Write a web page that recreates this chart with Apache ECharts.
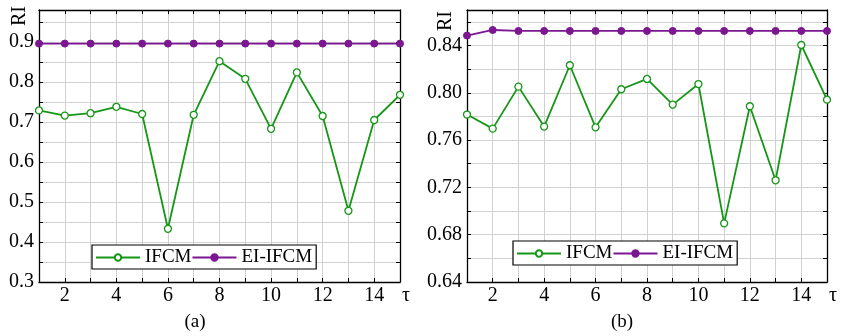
<!DOCTYPE html>
<html>
<head>
<meta charset="utf-8">
<script src="https://cdn.jsdelivr.net/npm/echarts@6/dist/echarts.min.js"></script>
<style>html,body{margin:0;padding:0;background:#fff}#c{width:841px;height:336px}</style>
</head>
<body>
<div id="c"></div>
<script>
const tau = [1,2,3,4,5,6,7,8,9,10,11,12,13,14,15];
const ifcmA = [0.729,0.716,0.722,0.738,0.720,0.433,0.718,0.852,0.808,0.683,0.824,0.715,0.478,0.705,0.768];
const eiA   = [0.896,0.896,0.896,0.896,0.896,0.896,0.896,0.896,0.896,0.896,0.896,0.896,0.896,0.896,0.896];
const ifcmB = [0.7816,0.7697,0.8052,0.7714,0.8233,0.7708,0.8030,0.8117,0.7900,0.8074,0.6896,0.7886,0.7260,0.8404,0.7942];
const eiB   = [0.8484,0.8531,0.8523,0.8523,0.8523,0.8523,0.8523,0.8523,0.8523,0.8523,0.8523,0.8523,0.8523,0.8523,0.8523];
const captions = ['(a)','(b)'];
const yName = 'RI';
const xName = 'τ';

const FONT = 'Liberation Serif';
const GREEN = '#169616';
const PURPLE = '#7b1790';
const pairs = (ys) => tau.map((t,i)=>[t, ys[i]]);

const grids = [
  {left:39, top:10, width:361, height:272},
  {left:467, top:10, width:360, height:272}
];
const yCfg = [
  {min:0.3, max:0.98, interval:0.05, lab:(v)=>Math.round(v*100)%10===0 ? v.toFixed(1) : ''},
  {min:0.64, max:0.87, interval:0.02, lab:(v)=>Math.round(v*100)%4===0 ? v.toFixed(2) : ''}
];

const xAxes = [], yAxes = [], series = [], legends = [], graphics = [];
grids.forEach((g,gi)=>{
  const base = {gridIndex:gi, type:'value', min:1, max:15, interval:1,
    axisLine:{show:true, onZero:false, lineStyle:{color:'#000', width:1.3}},
    axisTick:{show:true, inside:true, length:4, lineStyle:{color:'#000', width:1}},
    splitLine:{show:false}};
  xAxes.push(Object.assign({}, base, {position:'bottom',
    splitLine:{show:true, lineStyle:{color:'#d0d0d0', width:1}},
    axisLabel:{show:true, interval:0, margin:4, color:'#000', fontFamily:FONT, fontSize:20,
      formatter:(v)=> v===15 ? '{t|'+xName+'}' : (v%2===0 ? String(v) : ''),
      rich:{t:{fontFamily:FONT, fontSize:20, color:'#000', padding:[0,0,0,12]}}}}));
  xAxes.push(Object.assign({}, base, {position:'top', axisLabel:{show:false}}));
  const yc = yCfg[gi];
  const ybase = {gridIndex:gi, type:'value', min:yc.min, max:yc.max, interval:yc.interval,
    axisLine:{show:true, onZero:false, lineStyle:{color:'#000', width:1.3}},
    axisTick:{show:true, inside:true, length:4, lineStyle:{color:'#000', width:1}},
    splitLine:{show:false}};
  yAxes.push(Object.assign({}, ybase, {position:'left',
    splitLine:{show:true, lineStyle:{color:'#d0d0d0', width:1}},
    axisLabel:{show:true, margin:5, color:'#000', fontFamily:FONT, fontSize:20, formatter:yc.lab}}));
  yAxes.push(Object.assign({}, ybase, {position:'right', axisLabel:{show:false}}));
});

const sets = [[ifcmA, eiA],[ifcmB, eiB]];
sets.forEach((s,gi)=>{
  series.push({name:'IFCM', type:'line', xAxisIndex:gi*2, yAxisIndex:gi*2, data:pairs(s[0]),
    symbol:'circle', symbolSize:7, showAllSymbol:true,
    lineStyle:{color:GREEN, width:1.8}, itemStyle:{color:'#fff', borderColor:GREEN, borderWidth:1.3},
    z:3});
  series.push({name:'EI-IFCM', type:'line', xAxisIndex:gi*2, yAxisIndex:gi*2, data:pairs(s[1]),
    symbol:'circle', symbolSize:7, showAllSymbol:true,
    lineStyle:{color:PURPLE, width:1.8}, itemStyle:{color:PURPLE, borderColor:PURPLE, borderWidth:1},
    z:4});
});

const legPos = [{left:92, top:245},{left:513, top:241}];
legPos.forEach((p)=>{
  legends.push({left:p.left, top:p.top, orient:'horizontal', itemGap:0, itemWidth:44, itemHeight:8,
    padding:[3,4,2,3], borderColor:'#000', borderWidth:1.2, backgroundColor:'#fff',
    data:['IFCM','EI-IFCM'],
    textStyle:{fontFamily:FONT, fontSize:19, color:'#000'}});
});

const capPos = [[195,322],[622,322]];
capPos.forEach((c,i)=>{
  graphics.push({type:'text', x:c[0], y:c[1], style:{text:captions[i], font:'19px "Liberation Serif"', fill:'#000', align:'center', verticalAlign:'middle'}});
});
[[20,16],[446,21]].forEach((c)=>{
  graphics.push({type:'text', x:c[0], y:c[1], rotation:Math.PI/2, style:{text:yName, font:'20px "Liberation Serif"', fill:'#000', align:'center', verticalAlign:'middle'}});
});

const chart = echarts.init(document.getElementById('c'), null, {renderer:'canvas'});
chart.setOption({
  animation:false,
  backgroundColor:'#fff',
  grid:grids,
  xAxis:xAxes,
  yAxis:yAxes,
  series:series,
  legend:legends,
  graphic:graphics
});
</script>
</body>
</html>
